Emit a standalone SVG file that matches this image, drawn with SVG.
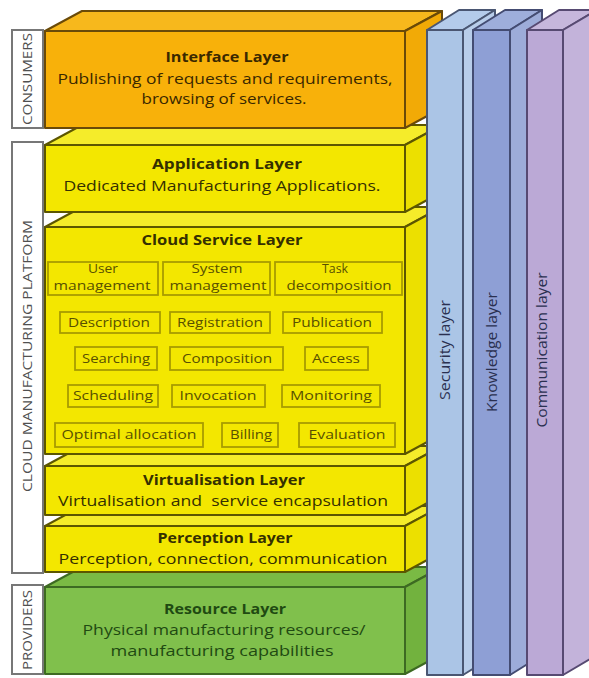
<svg xmlns="http://www.w3.org/2000/svg" width="589" height="678" viewBox="0 0 589 678">
<style>
  text { font-family: "Open Sans", "Liberation Sans", sans-serif; }
  .lbl { fill: #ffffff; stroke: #777777; stroke-width: 2; }
  .lbltxt { font-size: 13px; fill: #505050; text-anchor: middle; }
  .o-front { fill: #f8b10a; stroke: #6a4a08; stroke-width: 2; stroke-linejoin: round; }
  .o-top { fill: #f7b81c; stroke: #6a4a08; stroke-width: 2; stroke-linejoin: round; }
  .o-side { fill: #f2aa06; stroke: #6a4a08; stroke-width: 2; stroke-linejoin: round; }
  .y-front { fill: #f3e700; stroke: #5c5600; stroke-width: 2; stroke-linejoin: round; }
  .y-top { fill: #f5ec2a; stroke: #5c5600; stroke-width: 2; stroke-linejoin: round; }
  .y-side { fill: #ece000; stroke: #5c5600; stroke-width: 2; stroke-linejoin: round; }
  .g-front { fill: #80c04c; stroke: #3d6a22; stroke-width: 2; stroke-linejoin: round; }
  .g-top { fill: #7aba44; stroke: #3d6a22; stroke-width: 2; stroke-linejoin: round; }
  .g-side { fill: #72b23e; stroke: #3d6a22; stroke-width: 2; stroke-linejoin: round; }
  .head { font-size: 15px; font-weight: bold; text-anchor: middle; }
  .desc { font-size: 15px; text-anchor: middle; }
  .tO { fill: #3a2800; }
  .tY { fill: #353000; }
  .tG { fill: #1f4a12; }
  .sub { fill: none; stroke: #a89c00; stroke-width: 1.8; }
  .subtxt { font-size: 13px; fill: #585000; text-anchor: middle; }
  .s-front { fill: #abc5e6; stroke: #4a5672; stroke-width: 2; stroke-linejoin: round; }
  .s-top { fill: #b4cbea; stroke: #4a5672; stroke-width: 2; stroke-linejoin: round; }
  .s-side { fill: #b8cdea; stroke: #4a5672; stroke-width: 2; stroke-linejoin: round; }
  .k-front { fill: #8e9fd5; stroke: #444c72; stroke-width: 2; stroke-linejoin: round; }
  .k-top { fill: #9eaedb; stroke: #444c72; stroke-width: 2; stroke-linejoin: round; }
  .k-side { fill: #9dacd9; stroke: #444c72; stroke-width: 2; stroke-linejoin: round; }
  .c-front { fill: #bba9d6; stroke: #574a72; stroke-width: 2; stroke-linejoin: round; }
  .c-top { fill: #c6b7dc; stroke: #574a72; stroke-width: 2; stroke-linejoin: round; }
  .c-side { fill: #c3b3da; stroke: #574a72; stroke-width: 2; stroke-linejoin: round; }
  .ptxt { font-size: 14px; fill: #2a3050; text-anchor: middle; }
</style>
<rect width="589" height="678" fill="#ffffff"/>

<!-- Side labels -->
<g id="label-consumers">
  <rect class="lbl" x="12" y="30" width="31" height="98"/>
  <text class="lbltxt" transform="translate(32,79) rotate(-90)" textLength="92" lengthAdjust="spacingAndGlyphs">CONSUMERS</text>
</g>
<g id="label-platform">
  <rect class="lbl" x="12" y="142" width="31" height="431"/>
  <text class="lbltxt" transform="translate(32,356) rotate(-90)" textLength="272" lengthAdjust="spacingAndGlyphs">CLOUD MANUFACTURING PLATFORM</text>
</g>
<g id="label-providers">
  <rect class="lbl" x="12" y="585" width="31" height="89"/>
  <text class="lbltxt" transform="translate(32,630) rotate(-90)" textLength="80" lengthAdjust="spacingAndGlyphs">PROVIDERS</text>
</g>

<!-- Resource layer -->
<g id="resource-layer">
  <polygon class="g-top" points="45,587 82,567 442,567 405,587"/>
  <polygon class="g-side" points="405,587 442,567 442,654 405,674"/>
  <rect class="g-front" x="45" y="587" width="360" height="87"/>
  <text class="head tG" x="225" y="614" textLength="122" lengthAdjust="spacingAndGlyphs">Resource Layer</text>
  <text class="desc tG" x="224" y="635" textLength="283" lengthAdjust="spacingAndGlyphs">Physical manufacturing resources/</text>
  <text class="desc tG" x="222" y="656" textLength="223" lengthAdjust="spacingAndGlyphs">manufacturing capabilities</text>
</g>

<!-- Perception layer -->
<g id="perception-layer">
  <polygon class="y-top" points="45,526 82,506 442,506 405,526"/>
  <polygon class="y-side" points="405,526 442,506 442,552 405,572"/>
  <rect class="y-front" x="45" y="526" width="360" height="46"/>
  <text class="head tY" x="225" y="543" textLength="135" lengthAdjust="spacingAndGlyphs">Perception Layer</text>
  <text class="desc tY" x="223" y="564" textLength="329" lengthAdjust="spacingAndGlyphs">Perception, connection, communication</text>
</g>

<!-- Virtualisation layer -->
<g id="virtualisation-layer">
  <polygon class="y-top" points="45,466 82,446 442,446 405,466"/>
  <polygon class="y-side" points="405,466 442,446 442,495 405,515"/>
  <rect class="y-front" x="45" y="466" width="360" height="49"/>
  <text class="head tY" x="224" y="485" textLength="162" lengthAdjust="spacingAndGlyphs">Virtualisation Layer</text>
  <text class="desc tY" x="223" y="506" textLength="330" lengthAdjust="spacingAndGlyphs" xml:space="preserve">Virtualisation and  service encapsulation</text>
</g>

<!-- Cloud service layer -->
<g id="cloud-service-layer">
  <polygon class="y-top" points="45,227 82,207 442,207 405,227"/>
  <polygon class="y-side" points="405,227 442,207 442,434 405,454"/>
  <rect class="y-front" x="45" y="227" width="360" height="227"/>
  <text class="head tY" x="222" y="245" textLength="161" lengthAdjust="spacingAndGlyphs">Cloud Service Layer</text>
</g>
<g id="user-management">
  <rect class="sub" x="48" y="262" width="110" height="33"/>
  <text class="subtxt" x="103" y="273" textLength="30" lengthAdjust="spacingAndGlyphs">User</text>
  <text class="subtxt" x="102" y="290" textLength="97" lengthAdjust="spacingAndGlyphs">management</text>
</g>
<g id="system-management">
  <rect class="sub" x="163" y="262" width="107" height="33"/>
  <text class="subtxt" x="217" y="273" textLength="51" lengthAdjust="spacingAndGlyphs">System</text>
  <text class="subtxt" x="218" y="290" textLength="97" lengthAdjust="spacingAndGlyphs">management</text>
</g>
<g id="task-decomposition">
  <rect class="sub" x="275" y="262" width="127" height="33"/>
  <text class="subtxt" x="335" y="273" textLength="26" lengthAdjust="spacingAndGlyphs">Task</text>
  <text class="subtxt" x="339" y="290" textLength="105" lengthAdjust="spacingAndGlyphs">decomposition</text>
</g>
<g id="description">
  <rect class="sub" x="60" y="312" width="100" height="21"/>
  <text class="subtxt" x="109" y="327" textLength="82" lengthAdjust="spacingAndGlyphs">Description</text>
</g>
<g id="registration">
  <rect class="sub" x="170" y="312" width="100" height="21"/>
  <text class="subtxt" x="220" y="327" textLength="86" lengthAdjust="spacingAndGlyphs">Registration</text>
</g>
<g id="publication">
  <rect class="sub" x="283" y="312" width="99" height="21"/>
  <text class="subtxt" x="332" y="327" textLength="80" lengthAdjust="spacingAndGlyphs">Publication</text>
</g>
<g id="searching">
  <rect class="sub" x="75" y="347" width="82" height="23"/>
  <text class="subtxt" x="116" y="363" textLength="68" lengthAdjust="spacingAndGlyphs">Searching</text>
</g>
<g id="composition">
  <rect class="sub" x="170" y="347" width="113" height="23"/>
  <text class="subtxt" x="227" y="363" textLength="90" lengthAdjust="spacingAndGlyphs">Composition</text>
</g>
<g id="access">
  <rect class="sub" x="305" y="347" width="63" height="23"/>
  <text class="subtxt" x="336" y="363" textLength="48" lengthAdjust="spacingAndGlyphs">Access</text>
</g>
<g id="scheduling">
  <rect class="sub" x="68" y="385" width="90" height="22"/>
  <text class="subtxt" x="113" y="400" textLength="80" lengthAdjust="spacingAndGlyphs">Scheduling</text>
</g>
<g id="invocation">
  <rect class="sub" x="172" y="385" width="93" height="22"/>
  <text class="subtxt" x="218" y="400" textLength="77" lengthAdjust="spacingAndGlyphs">Invocation</text>
</g>
<g id="monitoring">
  <rect class="sub" x="282" y="385" width="98" height="22"/>
  <text class="subtxt" x="331" y="400" textLength="82" lengthAdjust="spacingAndGlyphs">Monitoring</text>
</g>
<g id="optimal-allocation">
  <rect class="sub" x="55" y="423" width="148" height="24"/>
  <text class="subtxt" x="129" y="439" textLength="135" lengthAdjust="spacingAndGlyphs">Optimal allocation</text>
</g>
<g id="billing">
  <rect class="sub" x="222" y="423" width="56" height="24"/>
  <text class="subtxt" x="251" y="439" textLength="42" lengthAdjust="spacingAndGlyphs">Billing</text>
</g>
<g id="evaluation">
  <rect class="sub" x="299" y="423" width="96" height="24"/>
  <text class="subtxt" x="347" y="439" textLength="77" lengthAdjust="spacingAndGlyphs">Evaluation</text>
</g>

<!-- Application layer -->
<g id="application-layer">
  <polygon class="y-top" points="45,145 82,125 442,125 405,145"/>
  <polygon class="y-side" points="405,145 442,125 442,192 405,212"/>
  <rect class="y-front" x="45" y="145" width="360" height="67"/>
  <text class="head tY" x="227" y="169" textLength="150" lengthAdjust="spacingAndGlyphs">Application Layer</text>
  <text class="desc tY" x="222" y="191" textLength="317" lengthAdjust="spacingAndGlyphs">Dedicated Manufacturing Applications.</text>
</g>

<!-- Interface layer -->
<g id="interface-layer">
  <polygon class="o-top" points="45,31 82,11 442,11 405,31"/>
  <polygon class="o-side" points="405,31 442,11 442,108 405,128"/>
  <rect class="o-front" x="45" y="31" width="360" height="97"/>
  <text class="head tO" x="227" y="62" textLength="123" lengthAdjust="spacingAndGlyphs">Interface Layer</text>
  <text class="desc tO" x="225" y="84" textLength="335" lengthAdjust="spacingAndGlyphs">Publishing of requests and requirements,</text>
  <text class="desc tO" x="224" y="104" textLength="165" lengthAdjust="spacingAndGlyphs">browsing of services.</text>
</g>

<!-- Vertical pillars -->
<g id="security-layer">
  <polygon class="s-top" points="427,30 459,10 495,10 463,30"/>
  <polygon class="s-side" points="463,30 495,10 495,655 463,675"/>
  <rect class="s-front" x="427" y="30" width="36" height="645"/>
  <text class="ptxt" transform="translate(450,350) rotate(-90)" textLength="100" lengthAdjust="spacingAndGlyphs">Security layer</text>
</g>
<g id="knowledge-layer">
  <polygon class="k-top" points="473,30 505,10 542,10 510,30"/>
  <polygon class="k-side" points="510,30 542,10 542,655 510,675"/>
  <rect class="k-front" x="473" y="30" width="37" height="645"/>
  <text class="ptxt" transform="translate(497,352) rotate(-90)" textLength="120" lengthAdjust="spacingAndGlyphs">Knowledge layer</text>
</g>
<g id="communication-layer">
  <polygon class="c-top" points="527,30 559,10 597,10 563,30"/>
  <polygon class="c-side" points="563,30 597,10 597,655 563,675"/>
  <rect class="c-front" x="527" y="30" width="36" height="645"/>
  <text class="ptxt" transform="translate(547,350) rotate(-90)" textLength="155" lengthAdjust="spacingAndGlyphs">Communication layer</text>
</g>

<g id="connectors"></g>
</svg>
